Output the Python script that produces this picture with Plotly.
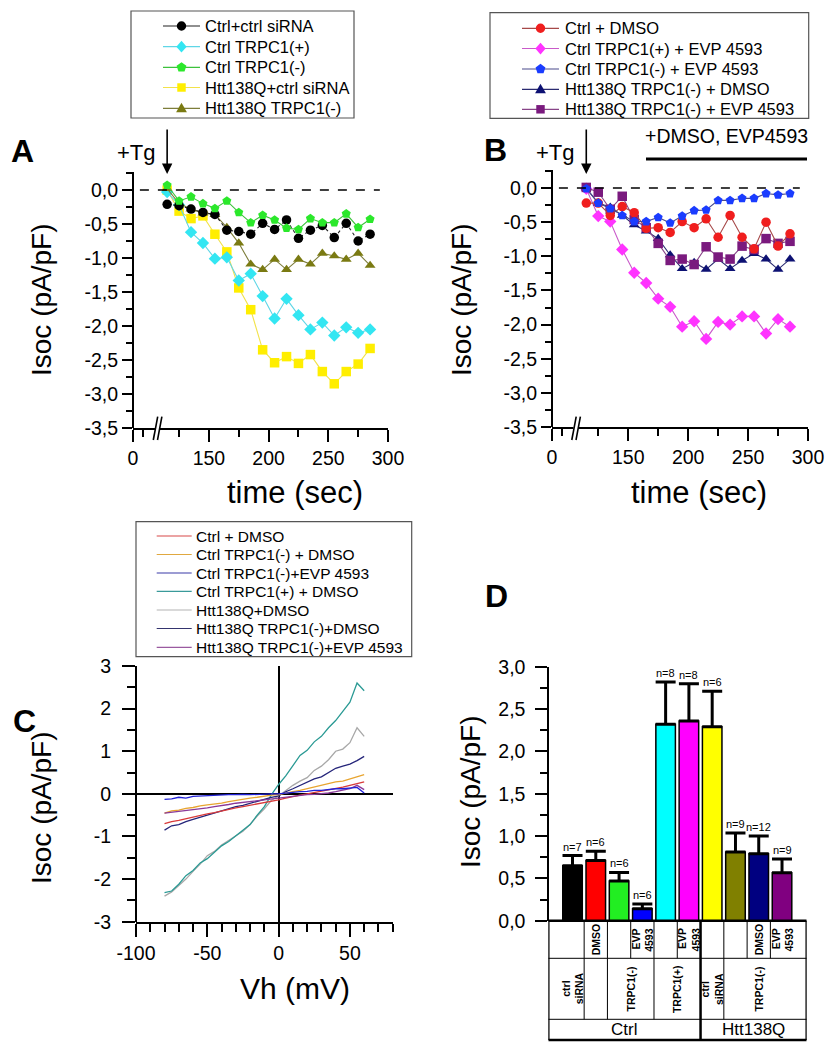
import math
import plotly.graph_objects as go

W, H = 832, 1050
FONT = "Liberation Sans, Arial, sans-serif"

# ---------------- data ----------------
time_sec = [115, 125, 135, 145, 155, 165, 175, 185, 195, 205, 215, 225, 235, 245, 255, 265, 275, 285]

a_names = ["Ctrl+ctrl siRNA", "Ctrl TRPC1(+)", "Ctrl TRPC1(-)", "Htt138Q+ctrl siRNA", "Htt138Q TRPC1(-)"]
a_ctrl_sirna = [-0.21, -0.23, -0.28, -0.33, -0.36, -0.59, -0.61, -0.65, -0.49, -0.58, -0.44, -0.71, -0.59, -0.52, -0.70, -0.49, -0.75, -0.65]
a_ctrl_trpc1_plus = [-0.03, -0.22, -0.62, -0.78, -1.01, -0.99, -1.33, -1.23, -1.56, -1.89, -1.60, -1.84, -2.05, -1.95, -2.14, -2.02, -2.10, -2.05]
a_ctrl_trpc1_minus = [0.07, -0.16, -0.10, -0.20, -0.27, -0.16, -0.33, -0.48, -0.37, -0.44, -0.56, -0.58, -0.42, -0.48, -0.48, -0.35, -0.55, -0.43]
a_htt_sirna = [0.0, -0.31, -0.42, -0.38, -0.65, -0.91, -1.44, -1.76, -2.35, -2.54, -2.45, -2.55, -2.42, -2.67, -2.85, -2.67, -2.56, -2.33]
a_htt_trpc1_minus = [0.02, -0.20, -0.28, -0.34, -0.36, -0.55, -0.78, -1.09, -1.17, -1.02, -1.17, -1.02, -1.09, -0.93, -0.97, -1.02, -0.93, -1.11]

b_names = ["Ctrl + DMSO", "Ctrl TRPC1(+) + EVP 4593", "Ctrl TRPC1(-) + EVP 4593", "Htt138Q TRPC1(-) + DMSO", "Htt138Q TRPC1(-) + EVP 4593"]
b_ctrl_dmso = [-0.22, -0.22, -0.40, -0.27, -0.36, -0.59, -0.58, -0.65, -0.49, -0.58, -0.45, -0.72, -0.40, -0.72, -0.89, -0.50, -0.85, -0.67]
b_ctrl_plus_evp = [-0.01, -0.41, -0.49, -0.90, -1.24, -1.39, -1.62, -1.74, -2.03, -1.95, -2.21, -1.96, -2.00, -1.88, -1.88, -2.13, -1.92, -2.03]
b_ctrl_minus_evp = [-0.01, -0.22, -0.30, -0.40, -0.49, -0.49, -0.43, -0.51, -0.41, -0.33, -0.32, -0.18, -0.18, -0.15, -0.15, -0.08, -0.10, -0.08]
b_htt_minus_dmso = [0.0, -0.22, -0.28, -0.40, -0.54, -0.63, -0.74, -0.98, -1.18, -1.09, -1.19, -1.04, -1.18, -1.06, -0.96, -1.04, -1.19, -1.04]
b_htt_minus_evp = [0.01, -0.06, -0.31, -0.12, -0.46, -0.58, -0.81, -1.06, -1.04, -1.12, -0.86, -1.01, -1.04, -0.85, -0.90, -0.74, -0.81, -0.78]

c_vh = [-80, -75, -70, -65, -60, -55, -50, -45, -40, -35, -30, -25, -20, -15, -10, -5, 0, 5, 10, 15, 20, 25, 30, 35, 40, 45, 50, 55, 60]
c_names = ["Ctrl + DMSO", "Ctrl TRPC1(-) + DMSO", "Ctrl TRPC1(-)+EVP 4593", "Ctrl TRPC1(+) + DMSO",
           "Htt138Q+DMSO", "Htt138Q TRPC1(-)+DMSO", "Htt138Q TRPC1(-)+EVP 4593"]
c_ctrl_dmso = [-0.70, -0.65, -0.62, -0.58, -0.55, -0.50, -0.47, -0.44, -0.40, -0.37, -0.33, -0.30, -0.27, -0.24, -0.20, -0.17, -0.14, -0.10, -0.06, -0.03, 0.00, 0.03, 0.06, 0.09, 0.12, 0.16, 0.20, 0.24, 0.28]
c_ctrl_minus_dmso = [-0.45, -0.40, -0.38, -0.34, -0.32, -0.28, -0.26, -0.24, -0.22, -0.18, -0.15, -0.13, -0.10, -0.08, -0.05, -0.03, -0.02, 0.02, 0.05, 0.08, 0.12, 0.15, 0.20, 0.24, 0.28, 0.30, 0.35, 0.40, 0.45]
c_ctrl_minus_evp = [-0.13, -0.12, -0.08, -0.10, -0.06, -0.05, -0.04, -0.04, -0.03, -0.02, -0.02, -0.01, -0.02, -0.01, 0.00, 0.00, 0.00, 0.02, 0.04, 0.05, 0.06, 0.08, 0.08, 0.10, 0.12, 0.12, 0.14, 0.15, 0.02]
c_ctrl_plus_dmso = [-2.32, -2.28, -2.12, -1.92, -1.80, -1.62, -1.52, -1.38, -1.22, -1.12, -0.98, -0.85, -0.72, -0.50, -0.30, -0.02, 0.22, 0.42, 0.66, 0.90, 1.02, 1.22, 1.35, 1.55, 1.72, 1.95, 2.15, 2.60, 2.42]
c_htt_dmso = [-2.40, -2.30, -2.15, -2.00, -1.82, -1.65, -1.45, -1.35, -1.20, -1.10, -1.00, -0.88, -0.72, -0.52, -0.35, -0.15, -0.05, 0.08, 0.20, 0.30, 0.38, 0.55, 0.65, 0.80, 1.00, 1.05, 1.20, 1.55, 1.35]
c_htt_minus_dmso = [-0.85, -0.75, -0.72, -0.65, -0.60, -0.55, -0.50, -0.45, -0.40, -0.35, -0.30, -0.27, -0.22, -0.18, -0.12, -0.08, -0.05, 0.05, 0.12, 0.20, 0.28, 0.35, 0.40, 0.50, 0.60, 0.65, 0.70, 0.78, 0.88]
c_htt_minus_evp = [-0.45, -0.43, -0.42, -0.40, -0.38, -0.35, -0.33, -0.30, -0.28, -0.25, -0.22, -0.20, -0.18, -0.16, -0.14, -0.12, -0.10, -0.08, -0.05, -0.04, -0.02, -0.01, 0.00, 0.02, 0.05, 0.08, 0.12, 0.20, 0.10]

d_values = [0.65, 0.71, 0.47, 0.14, 2.32, 2.36, 2.29, 0.81, 0.79, 0.565]
d_err = [0.12, 0.11, 0.10, 0.056, 0.50, 0.44, 0.42, 0.225, 0.21, 0.165]
d_n = ["n=7", "n=6", "n=6", "n=6", "n=8", "n=8", "n=6", "n=9", "n=12", "n=9"]
d_colors = ["#000000", "#ff0000", "#22ee22", "#0000ff", "#00ffff", "#ff00ff", "#ffff00", "#808000", "#000080", "#800080"]
d_row1 = ["", "DMSO", "", "EVP<br>4593", "", "EVP<br>4593", "", "", "DMSO", "EVP<br>4593"]
d_row2 = [("ctrl<br>siRNA", 0, 0), ("", 1, 1), ("TRPC1(-)", 2, 3), ("TRPC1(+)", 4, 5), ("ctrl<br>siRNA", 6, 6), ("TRPC1(-)", 7, 9)]
d_row3 = [("Ctrl", 0, 5), ("Htt138Q", 6, 9)]

ab_yticks = [0.0, -0.5, -1.0, -1.5, -2.0, -2.5, -3.0, -3.5]
ab_xticks = [150, 200, 250, 300]
c_xticks = [-100, -50, 0, 50]
c_yticks = [3, 2, 1, 0, -1, -2, -3]
d_yticks = [0.0, 0.5, 1.0, 1.5, 2.0, 2.5, 3.0]


# ---------------- helpers ----------------
def px(x):
    return x / W


def py(y):
    return 1 - y / H


def comma(v, nd=1):
    return f"{v:.{nd}f}".replace(".", ",")


TIME_START = 86.4  # broken-axis start (labelled "0")


def base_axis(**kw):
    d = dict(showline=True, linecolor="black", linewidth=2, ticks="outside", tickcolor="black",
             tickwidth=2, ticklen=11, showgrid=False, zeroline=False, fixedrange=True, automargin=False,
             tickfont=dict(family=FONT, size=19.5, color="black"))
    d.update(kw)
    return d


def minor(vals, ln=6):
    return dict(ticks="outside", ticklen=ln, tickwidth=2, tickcolor="black", tickvals=vals, showgrid=False)


fig = go.Figure()
ann = []
shapes = []

# ---------------- panel A ----------------
a_series = [a_ctrl_sirna, a_ctrl_trpc1_plus, a_ctrl_trpc1_minus, a_htt_sirna, a_htt_trpc1_minus]
a_marker = ["#000000", "#33e6f2", "#2be82b", "#ffee00", "#7a7a12"]
a_line = ["#222222", "#5fd6e6", "#3cc23c", "#f2e24a", "#7d7d3a"]
a_dash = ["dot", "solid", "solid", "solid", "solid"]
a_sym = ["circle", "diamond", "pentagon", "square", "triangle-up"]
a_order = [3, 1, 4, 0, 2]
for i in a_order:
    fig.add_trace(go.Scatter(x=time_sec, y=a_series[i], name=a_names[i], mode="lines+markers",
                             xaxis="x", yaxis="y", showlegend=False,
                             line=dict(color=a_line[i], width=1.1, dash=a_dash[i]),
                             marker=dict(color=a_marker[i], symbol=a_sym[i], size=9.5, line=dict(width=0))))

# ---------------- panel B ----------------
b_series = [b_ctrl_dmso, b_ctrl_plus_evp, b_ctrl_minus_evp, b_htt_minus_dmso, b_htt_minus_evp]
b_marker = ["#f01e1e", "#ff33ff", "#1a3cff", "#0d1173", "#7a1a7e"]
b_line = ["#a64848", "#c95ac9", "#4a4a8c", "#2a2a70", "#884488"]
b_sym = ["circle", "diamond", "pentagon", "triangle-up", "square"]
b_order = [1, 3, 4, 0, 2]
for i in b_order:
    fig.add_trace(go.Scatter(x=time_sec, y=b_series[i], name=b_names[i], mode="lines+markers",
                             xaxis="x2", yaxis="y2", showlegend=False,
                             line=dict(color=b_line[i], width=1.1),
                             marker=dict(color=b_marker[i], symbol=b_sym[i], size=9.5, line=dict(width=0))))

# ---------------- panel C ----------------
c_series = [c_ctrl_dmso, c_ctrl_minus_dmso, c_ctrl_minus_evp, c_ctrl_plus_dmso, c_htt_dmso, c_htt_minus_dmso, c_htt_minus_evp]
c_colors = ["#d83a3a", "#e8a530", "#2323d8", "#2a9a94", "#a8a8a8", "#25257a", "#8a3a9a"]
c_legend_colors = ["#d84848", "#e0a840", "#3a3aa8", "#3a9a9a", "#b4b4b4", "#34346e", "#9a5aa0"]
c_order = [4, 3, 5, 1, 0, 6, 2]
for i in c_order:
    fig.add_trace(go.Scatter(x=c_vh, y=c_series[i], name=c_names[i], mode="lines",
                             xaxis="x3", yaxis="y3", showlegend=False,
                             line=dict(color=c_colors[i], width=1.3)))

# ---------------- panel D ----------------
d_x = list(range(len(d_values)))
fig.add_trace(go.Bar(x=d_x, y=d_values, xaxis="x4", yaxis="y4", showlegend=False, width=0.84,
                     marker=dict(color=d_colors, line=dict(color="black", width=1.5)),
                     error_y=dict(type="data", symmetric=False, array=d_err, arrayminus=[0] * len(d_err),
                                  color="black", thickness=3, width=10)))


# ---------------- legends (boxes drawn as decorations) ----------------
def marker_shape(sym, cx, cy, color, r=4.7):
    if sym == "circle":
        return dict(type="circle", xref="paper", yref="paper", x0=px(cx - r), x1=px(cx + r),
                    y0=py(cy + r), y1=py(cy - r), fillcolor=color, line=dict(width=0))
    if sym == "square":
        s = r * 0.9
        return dict(type="rect", xref="paper", yref="paper", x0=px(cx - s), x1=px(cx + s),
                    y0=py(cy + s), y1=py(cy - s), fillcolor=color, line=dict(width=0))
    if sym == "diamond":
        pts = [(cx, cy - r * 1.25), (cx + r * 1.1, cy), (cx, cy + r * 1.25), (cx - r * 1.1, cy)]
    elif sym == "pentagon":
        pts = [(cx + r * 1.1 * math.cos(math.radians(-90 + 72 * k)),
                cy + r * 1.1 * math.sin(math.radians(-90 + 72 * k))) for k in range(5)]
    else:  # triangle-up
        pts = [(cx, cy - r * 1.2), (cx + r * 1.15, cy + r * 0.85), (cx - r * 1.15, cy + r * 0.85)]
    path = "M " + " L ".join(f"{px(x):.5f},{py(y):.5f}" for x, y in pts) + " Z"
    return dict(type="path", xref="paper", yref="paper", path=path, fillcolor=color, line=dict(width=0))


def draw_legend(box, rows, sym_x0, sym_x1, text_x, names, line_colors, marker_colors, syms, fsize):
    x0, y0, x1, y1 = box
    shapes.append(dict(type="rect", xref="paper", yref="paper", x0=px(x0), x1=px(x1), y0=py(y1), y1=py(y0),
                       fillcolor="white", line=dict(color="#555555", width=1.2), layer="above"))
    for k, name in enumerate(names):
        yy = rows[k]
        shapes.append(dict(type="line", xref="paper", yref="paper", x0=px(sym_x0), x1=px(sym_x1),
                           y0=py(yy), y1=py(yy), line=dict(color=line_colors[k], width=1.2)))
        if syms is not None:
            shapes.append(marker_shape(syms[k], (sym_x0 + sym_x1) / 2, yy, marker_colors[k]))
        ann.append(dict(text=name, x=px(text_x), y=py(yy), xref="paper", yref="paper", showarrow=False,
                        xanchor="left", yanchor="middle", font=dict(family=FONT, size=fsize, color="black")))


draw_legend((131, 11, 354, 118), [26, 46.7, 67.3, 87.5, 108.3], 163, 200, 203,
            a_names, a_line, a_marker, a_sym, 16.5)
draw_legend((490, 12.7, 808.7, 118.3), [28.3, 48.5, 69, 89.3, 109.3], 522, 559, 563,
            b_names, b_line, b_marker, b_sym, 16.5)
draw_legend((136, 521.7, 411.7, 656.7), [536, 554.5, 573, 591.3, 610, 628.5, 647.3], 156.7, 191.7, 194,
            c_names, c_legend_colors, None, None, 15.5)

# ---------------- layout ----------------
yr_ab = [-3.5, 0.265]
xa = base_axis(domain=[px(133), px(388)], range=[TIME_START, 300], anchor="y", ticklen=12,
               ticklabelstandoff=0,
               tickvals=[TIME_START] + ab_xticks, ticktext=["0"] + [str(v) for v in ab_xticks],
               minor=minor([95, 125, 175, 225, 275], 7))
ya = base_axis(domain=[py(428), py(172)], range=yr_ab, anchor="free", position=px(133), ticklen=10,
               ticklabelstandoff=0,
               tickvals=ab_yticks, ticktext=[comma(v) for v in ab_yticks],
               minor=minor([0.25, -0.25, -0.75, -1.25, -1.75, -2.25, -2.75, -3.25]))
xb = dict(xa, domain=[px(552), px(808)], anchor="y2")
yb = dict(ya, domain=[py(427), py(170)], anchor="free", position=px(552))

xc = base_axis(domain=[px(136), px(392.7)], range=[-100, 80], anchor="y3", ticklen=13,
               ticklabelstandoff=0,
               tickvals=c_xticks, ticktext=[str(v) for v in c_xticks],
               minor=minor([v for v in range(-90, 81, 10) if v % 50 != 0], 8),
               zeroline=True, zerolinecolor="black", zerolinewidth=2)
yc = base_axis(domain=[py(921.7), py(666)], range=[-3, 3], anchor="free", position=px(136), ticklen=13,
               ticklabelstandoff=7,
               tickvals=c_yticks, ticktext=[str(v) for v in c_yticks],
               minor=minor([2.5, 1.5, 0.5, -0.5, -1.5, -2.5], 8),
               zeroline=True, zerolinecolor="black", zerolinewidth=2)

xd = dict(domain=[px(548.3), px(806.7)], range=[-1.04, 10.06], anchor="y4", showline=False, automargin=False,
          showticklabels=False, ticks="", showgrid=False, zeroline=False, fixedrange=True)
yd = base_axis(domain=[py(920.7), py(666.7)], range=[0, 3.0], anchor="free", position=px(548.3), ticklen=12,
               ticklabelstandoff=6,
               tickvals=d_yticks, ticktext=[comma(v) for v in d_yticks],
               minor=minor([0.25, 0.75, 1.25, 1.75, 2.25, 2.75], 7))

fig.update_layout(
    width=W, height=H, margin=dict(l=0, r=0, t=0, b=0, pad=0, autoexpand=False),
    paper_bgcolor="white", plot_bgcolor="white", showlegend=False,
    font=dict(family=FONT, color="black"),
    xaxis=xa, yaxis=ya, xaxis2=xb, yaxis2=yb, xaxis3=xc, yaxis3=yc, xaxis4=xd, yaxis4=yd,
)

# panel letters
for txt, cx, cy in [("A", 22, 151), ("B", 495, 150), ("C", 24, 721), ("D", 496, 596)]:
    ann.append(dict(text=f"<b>{txt}</b>", x=px(cx), y=py(cy), xref="paper", yref="paper",
                    showarrow=False, xanchor="center", yanchor="middle",
                    font=dict(family=FONT, size=32, color="black")))

# y titles
for cx, cy in [(41, 300), (461, 300), (41, 808), (470, 792)]:
    ann.append(dict(text="Isoc (pA/pF)", x=px(cx), y=py(cy), xref="paper", yref="paper", textangle=-90,
                    showarrow=False, xanchor="center", yanchor="middle",
                    font=dict(family=FONT, size=28, color="black")))
# x titles
for txt, cx, cy, fs in [("time (sec)", 295, 493, 31), ("time (sec)", 699, 493, 31), ("Vh (mV)", 295, 988, 30)]:
    ann.append(dict(text=txt, x=px(cx), y=py(cy), xref="paper", yref="paper", showarrow=False,
                    xanchor="center", yanchor="middle", font=dict(family=FONT, size=fs, color="black")))

# +Tg and arrows
for xr, cx in [("x", 136), ("x2", 555)]:
    ann.append(dict(text="+Tg", x=px(cx), y=py(153), xref="paper", yref="paper", showarrow=False,
                    xanchor="center", yanchor="middle", font=dict(family=FONT, size=22, color="black")))
    ann.append(dict(text="", x=time_sec[0], y=py(174), xref=xr, yref="paper", showarrow=True,
                    ax=0, ay=-46, arrowhead=2, arrowsize=1.3, arrowwidth=1.6, arrowcolor="black"))

ann.append(dict(text="+DMSO, EVP4593", x=px(726), y=py(136), xref="paper", yref="paper", showarrow=False,
                xanchor="center", yanchor="middle", font=dict(family=FONT, size=19.5, color="black")))
shapes.append(dict(type="line", xref="paper", yref="paper", x0=px(646), x1=px(807), y0=py(159), y1=py(159),
                   line=dict(color="black", width=3)))

# dashed zero lines A/B
for xr, yr in [("x domain", "y"), ("x2 domain", "y2")]:
    shapes.append(dict(type="line", xref=xr, yref=yr, x0=0.027, x1=0.968, y0=0, y1=0,
                       line=dict(color="black", width=1.5, dash="dash")))

# axis breaks
for off in [0, 418.5]:
    shapes.append(dict(type="rect", xref="paper", yref="paper", x0=px(155 + off), x1=px(159.8 + off),
                       y0=py(432), y1=py(424), fillcolor="white", line=dict(width=0), layer="above"))
    for dx in [0, 4.2]:
        shapes.append(dict(type="line", xref="paper", yref="paper", x0=px(153.3 + off + dx), y0=py(440),
                           x1=px(157.7 + off + dx), y1=py(416.7), line=dict(color="black", width=1.6)))

# n labels
for i, lab in enumerate(d_n):
    ann.append(dict(text=lab, x=d_x[i], y=d_values[i] + d_err[i], xref="x4", yref="y4", showarrow=False,
                    xanchor="center", yanchor="bottom", yshift=1, font=dict(family=FONT, size=11, color="black")))

# table under D
T_TOP, T_R1, T_R2, T_BOT = 920.7, 958.3, 1019.3, 1040
X_L, X_R = -1.04, 10.06


def vline(x, y0, y1, w=1):
    shapes.append(dict(type="line", xref="x4", yref="paper", x0=x, x1=x, y0=py(y0), y1=py(y1),
                       line=dict(color="black", width=w)))


def hline(y, w=1):
    shapes.append(dict(type="line", xref="x4", yref="paper", x0=X_L, x1=X_R, y0=py(y), y1=py(y),
                       line=dict(color="black", width=w)))


hline(T_TOP, 2.5)
hline(T_R1, 1)
hline(T_R2, 1)
hline(T_BOT, 2.5)
vline(X_L, T_TOP, T_BOT, 2.5)
vline(X_R, T_TOP, T_BOT, 2.5)
for i in range(len(d_row1) - 1):
    vline(i + 0.5, T_TOP, T_R1, 1)
for lab, a, b in d_row2[:-1]:
    vline(b + 0.5, T_R1, T_R2, 1)
vline(d_row3[0][2] + 0.5, T_TOP, T_BOT, 2.5)

for i, lab in enumerate(d_row1):
    if lab:
        ann.append(dict(text=f"<b>{lab}</b>", x=d_x[i], y=py((T_TOP + T_R1) / 2), xref="x4", yref="paper",
                        textangle=-90, showarrow=False, xanchor="center", yanchor="middle", align="right",
                        font=dict(family=FONT, size=10.5, color="black")))
for lab, a, b in d_row2:
    if lab:
        ann.append(dict(text=f"<b>{lab}</b>", x=(a + b) / 2, y=py((T_R1 + T_R2) / 2), xref="x4", yref="paper",
                        textangle=-90, showarrow=False, xanchor="center", yanchor="middle", align="center",
                        font=dict(family=FONT, size=10.5, color="black")))
for lab, a, b in d_row3:
    xm = ((X_L if a == 0 else a - 0.5) + (X_R if b == len(d_values) - 1 else b + 0.5)) / 2
    ann.append(dict(text=lab, x=xm, y=py((T_R2 + T_BOT) / 2), xref="x4", yref="paper",
                    showarrow=False, xanchor="center", yanchor="middle",
                    font=dict(family=FONT, size=17, color="black")))

fig.update_layout(annotations=ann, shapes=shapes)
fig.write_html("out.html", config={"displayModeBar": False},
               post_script="document.body.style.margin='0px';")
